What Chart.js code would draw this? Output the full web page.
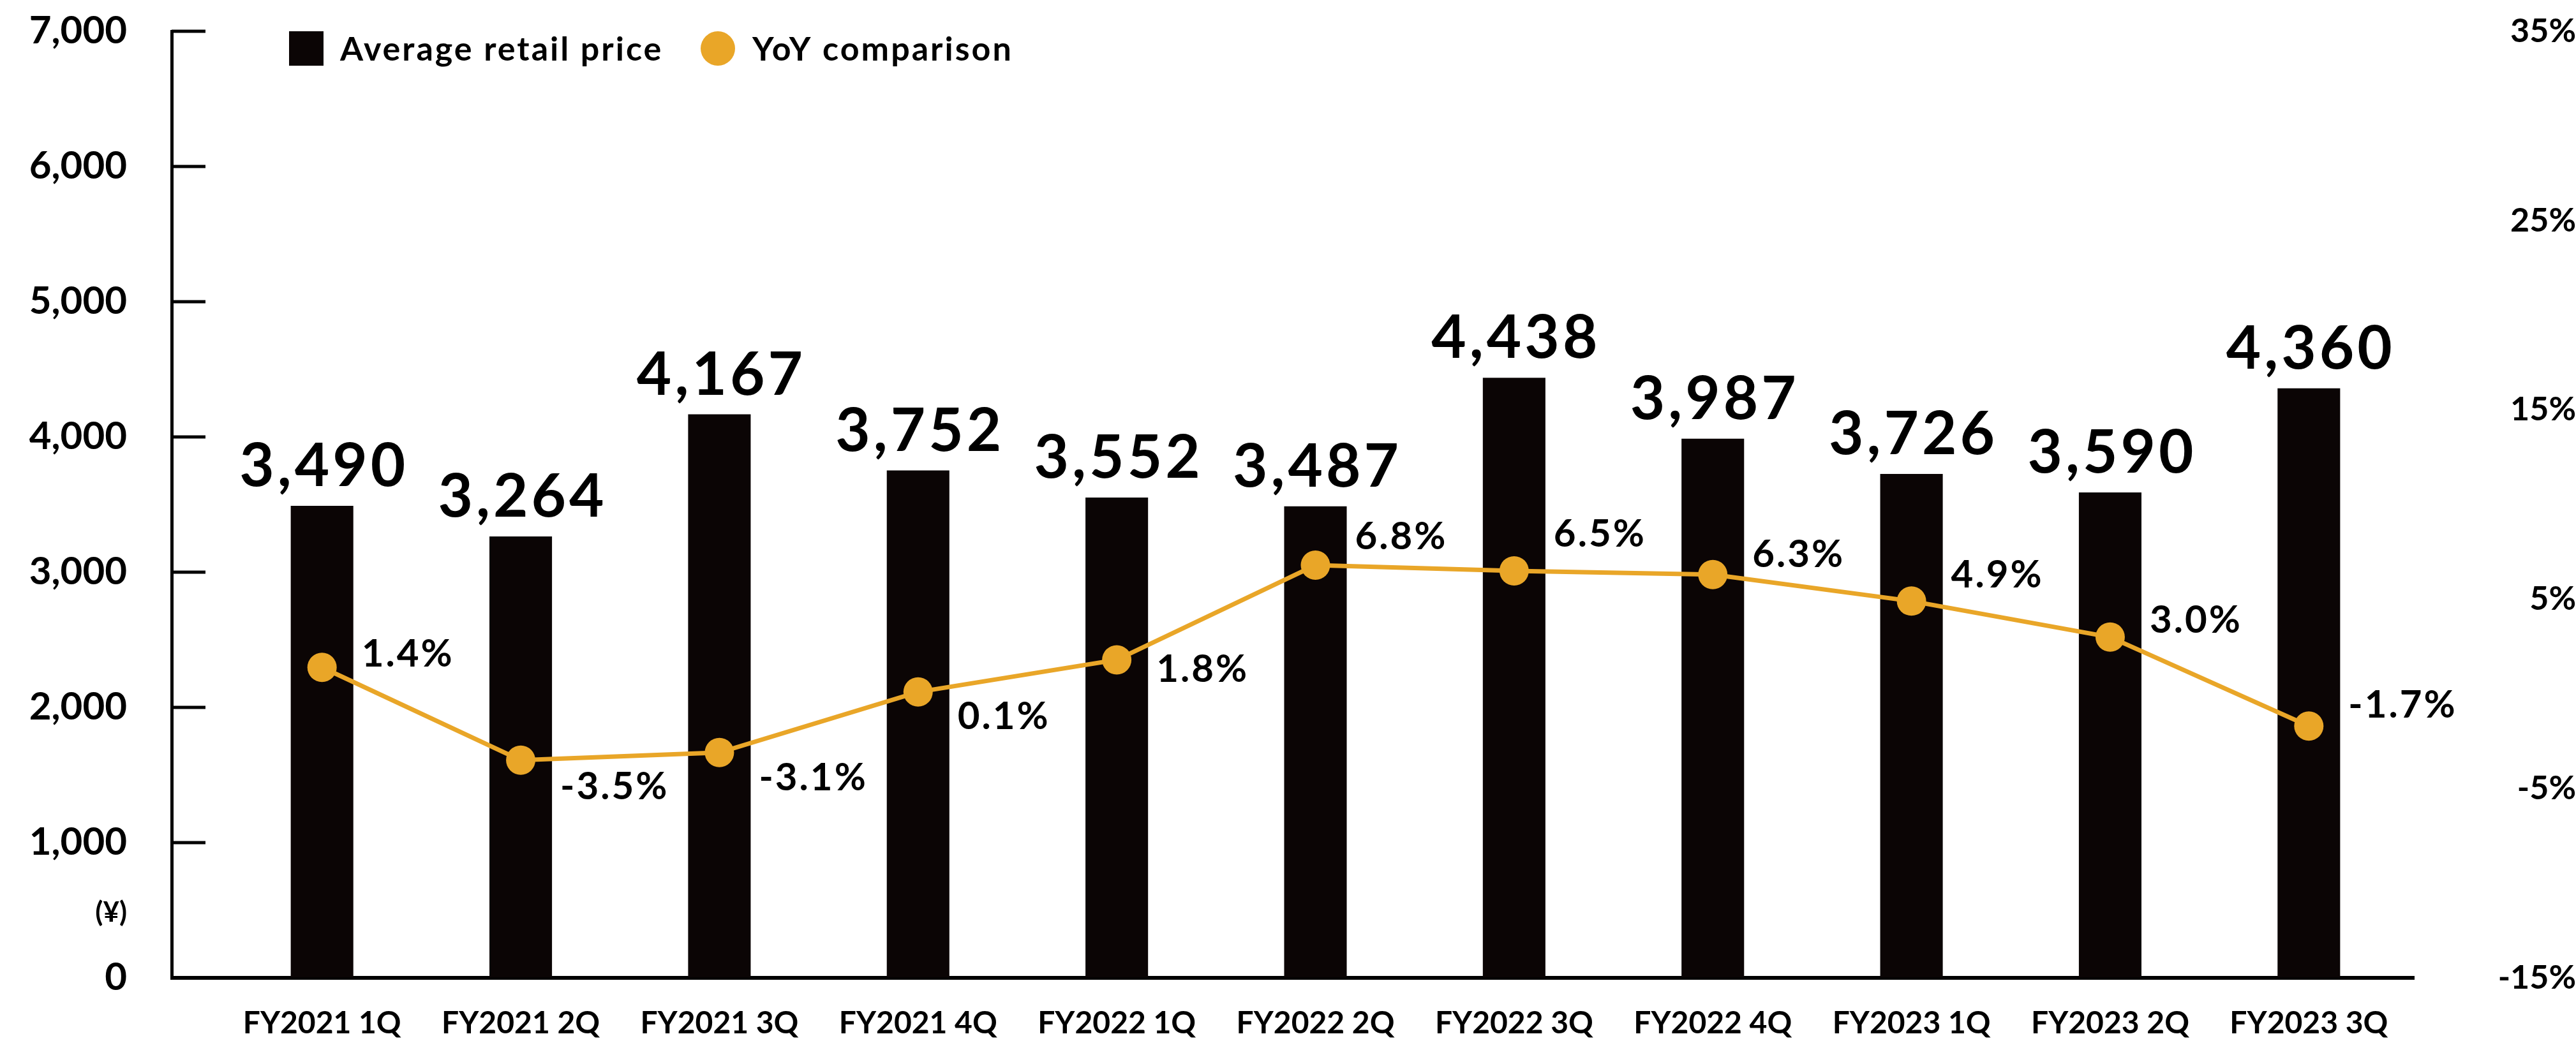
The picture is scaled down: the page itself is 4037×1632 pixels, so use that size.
<!DOCTYPE html>
<html>
<head>
<meta charset="utf-8">
<script src="https://cdn.jsdelivr.net/npm/chart.js@4.4.0/dist/chart.umd.min.js"></script>
<style>
  body { margin: 0; background: #fff; }
  #wrap { width: 4037px; height: 1632px; position: relative; }
</style>
</head>
<body>
<div id="wrap"><canvas id="myChart"></canvas></div>
<script>
var labels = ["FY2021 1Q", "FY2021 2Q", "FY2021 3Q", "FY2021 4Q", "FY2022 1Q", "FY2022 2Q", "FY2022 3Q", "FY2022 4Q", "FY2023 1Q", "FY2023 2Q", "FY2023 3Q"];
var avgPrice = [3490, 3264, 4167, 3752, 3552, 3487, 4438, 3987, 3726, 3590, 4360];
var yoy = [1.4, -3.5, -3.1, 0.1, 1.8, 6.8, 6.5, 6.3, 4.9, 3.0, -1.7];
var priceTicks = [0, 1000, 2000, 3000, 4000, 5000, 6000, 7000];
var yoyTicks = [-15, -5, 5, 15, 25, 35];

var BAR = '#0b0505';
var ORANGE = '#e9a628';
var FONT = 'Lato, "Noto Sans", sans-serif';

// vertical nudge of each YoY label relative to its point (px)
var yoyLabelDy = [-21, 42, 40, 39, 15, -44, -57, -31, -41, -26, -33];

var decor = {
  id: 'decor',
  beforeDatasetsDraw: function(chart) {
    var c = chart.ctx, y = chart.scales.y, a = chart.chartArea;
    var axisX = 269;
    c.save();
    c.fillStyle = '#000';
    // left axis line
    c.fillRect(axisX - 2, y.getPixelForValue(7000) - 2, 5, y.getPixelForValue(0) - y.getPixelForValue(7000) + 4);
    // inner ticks
    priceTicks.forEach(function(v) {
      c.fillRect(axisX, y.getPixelForValue(v) - 2.5, 53, 5);
    });
    // baseline
    c.fillRect(axisX - 2, y.getPixelForValue(0) - 3, a.right + 12 - axisX, 6);
    // (¥)
    c.font = 'bold 44px ' + FONT;
    c.textAlign = 'right';
    c.textBaseline = 'middle';
    c.fillText('(¥)', 199, y.getPixelForValue(480));
    c.restore();
  },
  afterDatasetsDraw: function(chart) {
    var c = chart.ctx;
    c.save();
    c.fillStyle = '#000';
    // bar value labels
    c.font = 'bold 94px ' + FONT;
    c.letterSpacing = '5px';
    c.textAlign = 'center';
    c.textBaseline = 'alphabetic';
    chart.getDatasetMeta(0).data.forEach(function(bar, i) {
      c.fillText(avgPrice[i].toLocaleString('en-US'), bar.x + 3, bar.y - 31);
    });
    // YoY labels
    c.font = 'bold 60px ' + FONT;
    c.letterSpacing = '3px';
    c.textAlign = 'left';
    c.textBaseline = 'middle';
    chart.getDatasetMeta(1).data.forEach(function(pt, i) {
      c.fillText(yoy[i].toFixed(1) + '%', pt.x + 62, pt.y + yoyLabelDy[i]);
    });
    // legend
    c.letterSpacing = '3px';
    c.font = 'bold 52px ' + FONT;
    c.fillStyle = BAR;
    c.fillRect(453, 49, 54, 54);
    c.fillStyle = '#000';
    c.fillText(chart.data.datasets[0].label, 533, 78);
    c.fillStyle = ORANGE;
    c.beginPath();
    c.arc(1125, 76, 27, 0, Math.PI * 2);
    c.fill();
    c.fillStyle = '#000';
    c.fillText(chart.data.datasets[1].label, 1179, 78);
    c.restore();
  }
};

var ctx = document.getElementById('myChart').getContext('2d');
var chart = new Chart(ctx, {
  type: 'bar',
  data: {
    labels: labels,
    datasets: [{
      type: 'bar',
      label: 'Average retail price',
      data: avgPrice,
      backgroundColor: BAR,
      borderWidth: 0,
      categoryPercentage: 1,
      barPercentage: 0.315,
      yAxisID: 'y',
      order: 2
    }, {
      type: 'line',
      label: 'YoY comparison',
      data: yoy,
      borderColor: ORANGE,
      borderWidth: 7,
      backgroundColor: ORANGE,
      pointBackgroundColor: ORANGE,
      pointBorderWidth: 0,
      pointRadius: 23,
      tension: 0,
      yAxisID: 'y1',
      order: 1
    }]
  },
  options: {
    responsive: true,
    maintainAspectRatio: false,
    animation: false,
    layout: { padding: { top: 49, left: 0, right: 0, bottom: 0 } },
    plugins: {
      legend: { display: false },
      tooltip: { enabled: false }
    },
    scales: {
      x: {
        grid: { display: false, drawTicks: false },
        border: { display: false },
        ticks: {
          color: '#000',
          padding: 43,
          maxRotation: 0,
          font: { family: FONT, size: 48, weight: 'bold' }
        },
        afterFit: function(s) { s.height = 99; }
      },
      y: {
        position: 'left',
        min: 0,
        max: 7000,
        grid: { display: true, drawOnChartArea: false, drawTicks: true, tickLength: 150, color: 'rgba(0,0,0,0)' },
        border: { display: false },
        ticks: {
          stepSize: 1000,
          color: '#000',
          padding: 0,
          font: { family: FONT, size: 60, weight: 'bold' },
          callback: function(v) { return v.toLocaleString('en-US'); }
        },
        afterFit: function(s) { s.width = 349; }
      },
      y1: {
        position: 'right',
        min: -15,
        max: 35,
        grid: { display: true, drawOnChartArea: false, drawTicks: true, tickLength: 135, color: 'rgba(0,0,0,0)' },
        border: { display: false },
        ticks: {
          stepSize: 10,
          color: '#000',
          padding: 0,
          crossAlign: 'far',
          font: { family: FONT, size: 52, weight: 'bold' },
          callback: function(v) { return v + '%'; }
        },
        afterFit: function(s) { s.width = 263; }
      }
    }
  },
  plugins: [decor]
});
</script>
</body>
</html>
